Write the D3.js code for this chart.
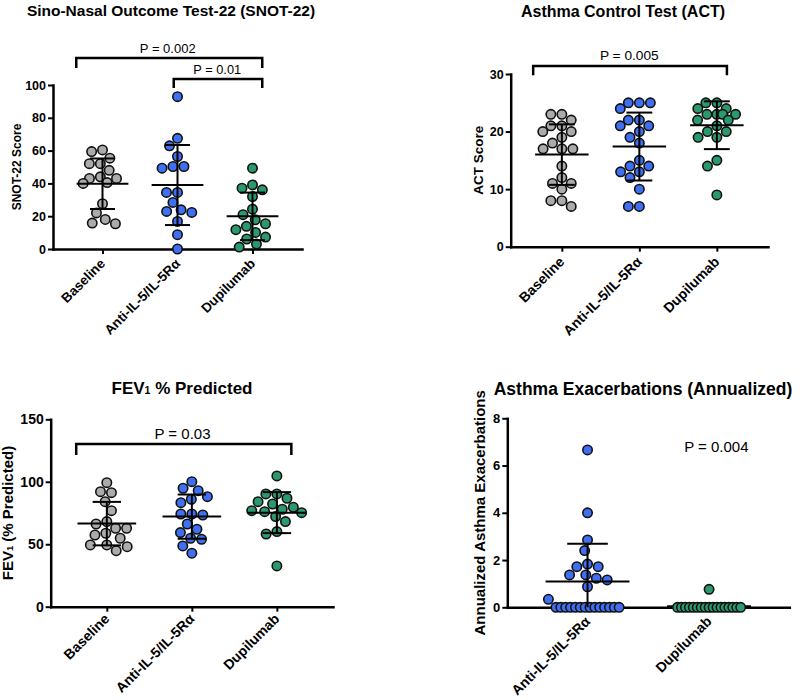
<!DOCTYPE html>
<html><head><meta charset="utf-8">
<script src="https://cdn.jsdelivr.net/npm/d3@7"></script>
<style>
body{margin:0;background:#fff}
svg{display:block}
text{font-family:"Liberation Sans",Arial,Helvetica,sans-serif;fill:#000}
</style>
</head><body>
<svg id="chart" width="800" height="700"></svg>
<script>
// ---------- data ----------
const groups3 = ["Baseline", "Anti-IL-5/IL-5Rα", "Dupilumab"];
const groups2 = ["Anti-IL-5/IL-5Rα", "Dupilumab"];
const colors3 = ["#ababab", "#3f6ff2", "#2a9a6e"];
const colors2 = ["#3f6ff2", "#2a9a6e"];

// SNOT-22
const snotBaseline = [59.4, 60.4, 55.4, 52, 52, 48, 44, 43, 43, 40, 40.5, 27.6, 22, 18, 15.4, 15.8];
const snotAnti = [92.9, 67.5, 62.9, 56.4, 50.3, 49.3, 50.3, 34.5, 34.5, 28.4, 22.9, 22.3, 23.9, 16.8, 8.7, 0];
const snotDupi = [49.3, 39.1, 36.1, 37.1, 32, 24.3, 20.9, 17.8, 15.4, 13.8, 11.8, 10.1, 6.1, 7.3, 3, 1.2];
const snotMean = [39.8, 39.0, 19.9];
const snotSD = [15.4, 24.4, 14.5];
const snotTicks = [0, 20, 40, 60, 80, 100];
const snotP = ["P = 0.002", "P = 0.01"];

// ACT
const actBaseline = [23, 23, 22, 21, 21, 20, 20, 19, 18, 17, 17, 17, 14, 12, 11, 11, 10, 8, 8, 7];
const actAnti = [25, 25, 25, 24, 22, 22, 21, 21, 20, 19, 18, 15, 14, 14, 13, 13, 12, 10, 7, 7];
const actDupi = [25, 25, 24, 24, 23, 23, 23, 23, 22, 22, 21, 20, 20, 19, 19, 15, 14, 9];
const actMean = [16.0, 17.4, 21.1];
const actSD = [5.25, 5.9, 4.15];
const actTicks = [0, 10, 20, 30];
const actP = ["P = 0.005"];

// FEV1 % predicted
const fevBaseline = [99.3, 92.1, 91.3, 84.1, 76.9, 68.1, 66.2, 62.8, 62.8, 58.8, 57.4, 54.8, 49.4, 48.0, 49.4, 44.8];
const fevAnti = [100.1, 94.8, 92.9, 88.1, 86, 83.3, 74.2, 73.4, 74.2, 66.2, 62, 59.3, 54, 54.8, 48.6, 42.8];
const fevDupi = [104.7, 90.3, 90.3, 86.8, 84.1, 82.2, 78, 76.1, 72.1, 75.3, 76.9, 79.6, 68.1, 60.1, 58.2, 32.6];
const fevMean = [66.5, 72.1, 75.3];
const fevSD = [17.4, 17.7, 16.4];
const fevTicks = [0, 50, 100, 150];
const fevP = ["P = 0.03"];

// Annualized exacerbations
const exAnti = [6.66, 4.0, 2.85, 2.4, 1.83, 1.72, 1.72, 1.37, 1.37, 1.16, 1.23, 0.87, 0.34,
                0, 0, 0, 0, 0, 0, 0, 0, 0, 0, 0, 0, 0, 0];
const exDupi = [0.76, 0, 0, 0, 0, 0, 0, 0, 0, 0, 0, 0, 0, 0, 0, 0, 0, 0];
const exMean = [1.09, 0.04];
const exSD = [1.6, null];
const exTicks = [0, 2, 4, 6, 8];
const exP = ["P = 0.004"];

// ---------- layout ----------
const R = 4.7, SW = 1.6, DIAM = 2 * R + SW;

const panels = [
  { title: [{t: "Sino-Nasal Outcome Test-22 (SNOT-22)"}], titleFs: 15.5, titlePos: [171, 15.5],
    ylabel: [{t: "SNOT-22 Score"}], ylabFs: 12, ylabX: 20.5,
    groups: groups3, colors: colors3, series: [snotBaseline, snotAnti, snotDupi],
    means: snotMean, sds: snotSD, ticks: snotTicks, domain: [0, 100],
    frame: {left: 53, right: 302, bottom: 249, top: 85}, tickFs: 12.5, xlabFs: 13.5, xlabOff: 15.5, spread: 0.26,
    brackets: [{from: -0.35, to: 2.13, y: 116.5, drop: 110.4, label: snotP[0], lx: 0.87, ly: 119.5, fs: 13},
               {from: 0.95, to: 2.13, y: 103.7, drop: 98.2, label: snotP[1], lx: 1.53, ly: 106.7, fs: 12.8}] },
  { title: [{t: "Asthma Control Test (ACT)"}], titleFs: 16, titlePos: [623, 17],
    ylabel: [{t: "ACT Score"}], ylabFs: 13.5, ylabX: 482.5,
    groups: groups3, colors: colors3, series: [actBaseline, actAnti, actDupi],
    means: actMean, sds: actSD, ticks: actTicks, domain: [0, 30],
    frame: {left: 510.7, right: 768, bottom: 246.7, top: 74}, tickFs: 12.5, xlabFs: 14, xlabOff: 16, spread: 0.26,
    brackets: [{from: -0.37, to: 2.13, y: 31.4, drop: 29.8, label: actP[0], lx: 0.87, ly: 32.4, fs: 13.7}] },
  { title: [{t: "FEV"}, {t: "1", sub: true}, {t: " % Predicted"}], titleFs: 17, titlePos: [182, 394],
    ylabel: [{t: "FEV"}, {t: "1", sub: true}, {t: " (% Predicted)"}], ylabFs: 15, ylabX: 12.5,
    groups: groups3, colors: colors3, series: [fevBaseline, fevAnti, fevDupi],
    means: fevMean, sds: fevSD, ticks: fevTicks, domain: [0, 150],
    frame: {left: 50.7, right: 333, bottom: 606.7, top: 419.3}, tickFs: 14, xlabFs: 14, xlabOff: 13, spread: 0.3,
    brackets: [{from: -0.36, to: 2.17, y: 130.3, drop: 121.5, label: fevP[0], lx: 0.89, ly: 134.3, fs: 15}] },
  { title: [{t: "Asthma Exacerbations (Annualized)"}], titleFs: 17.5, titlePos: [643, 395],
    ylabel: [{t: "Annualized Asthma Exacerbations"}], ylabFs: 15, ylabX: 485,
    groups: groups2, colors: colors2, series: [exAnti, exDupi],
    means: exMean, sds: exSD, ticks: exTicks, domain: [0, 8],
    frame: {left: 507.3, right: 789.3, bottom: 607.3, top: 418.3}, tickFs: 13, xlabFs: 14, xlabOff: 15, spread: 0.26,
    brackets: [{label: exP[0], lx: 1.06, ly: 6.58, fs: 15}] }
];

// ---------- beeswarm ----------
function swarm(vals, y, diam, maxHalf) {
  const pts = vals.map(v => ({v, y: y(v), x: 0}));
  const placed = [];
  const cap = Math.floor(2 * maxHalf / diam) + 1;
  const counts = d3.rollup(pts, g => g.length, p => p.v);
  for (const [v, n] of counts) {
    if (n > cap) {
      const grp = pts.filter(p => p.v === v);
      grp.forEach((p, i) => { p.x = -maxHalf + 2 * maxHalf * i / (n - 1); p.hard = true; p.done = true; placed.push(p); });
    }
  }
  const rest = pts.filter(p => !p.done).sort((a, b) => a.y - b.y);
  for (const p of rest) {
    let d = diam, best = null, first = null;
    while (true) {
      const cands = [0];
      for (const q of placed) {
        const dd = q.hard ? diam : d;
        const dy = q.y - p.y;
        if (Math.abs(dy) < dd) {
          const dx = Math.sqrt(dd * dd - dy * dy);
          cands.push(q.x + dx, q.x - dx);
        }
      }
      const ok = cands.filter(c => placed.every(q => {
        const dd = q.hard ? diam : d;
        return (q.x - c) ** 2 + (q.y - p.y) ** 2 >= dd * dd - 0.01;
      }));
      ok.sort((a, b) => Math.abs(a) - Math.abs(b) || a - b);
      best = ok[0];
      if (first === null) first = best;
      if (Math.abs(best) <= maxHalf) break;
      if (d < diam * 0.45) { best = first; break; }
      d *= 0.9;
    }
    p.x = best;
    placed.push(p);
  }
  return pts;
}

function addRich(sel, parts, fs) {
  parts.forEach(pt => {
    const ts = sel.append("tspan").text(pt.t);
    if (pt.sub) ts.style("font-size", (fs * 0.62) + "px");
  });
}

// ---------- draw ----------
const svg = d3.select("#chart");

panels.forEach(p => {
  const g = svg.append("g");
  const y = d3.scaleLinear().domain(p.domain).range([p.frame.bottom, p.frame.top]);
  const x = d3.scalePoint().domain(p.groups).range([p.frame.left, p.frame.right]).padding(0.66);
  const step = x.step();
  const xi = i => x(p.groups[0]) + i * step;

  // axes (drawn first so markers sit on top of them)
  const yg = g.append("g").attr("transform", `translate(${p.frame.left},0)`)
    .call(d3.axisLeft(y).tickValues(p.ticks).tickSize(5).tickSizeOuter(0).tickPadding(2));
  yg.attr("font-family", null).attr("font-size", null);
  yg.select(".domain").attr("stroke", "#000").attr("stroke-width", 2.5).attr("stroke-linecap", "square");
  yg.selectAll(".tick line").attr("stroke", "#000").attr("stroke-width", 2);
  yg.selectAll(".tick text").style("font-size", p.tickFs + "px")
    .style("font-weight", "bold").attr("fill", "#000");

  const xg = g.append("g").attr("transform", `translate(0,${p.frame.bottom})`)
    .call(d3.axisBottom(x).tickSize(5).tickSizeOuter(0));
  xg.attr("font-family", null).attr("font-size", null);
  xg.select(".domain").attr("stroke", "#000").attr("stroke-width", 2.5).attr("stroke-linecap", "square");
  xg.selectAll(".tick line").attr("stroke", "#000").attr("stroke-width", 2);
  xg.selectAll(".tick text")
    .attr("x", 0).attr("y", 0).attr("dy", 0)
    .attr("transform", `translate(3,${p.xlabOff}) rotate(-45)`)
    .style("text-anchor", "end").style("font-size", p.xlabFs + "px")
    .style("font-weight", "bold").attr("fill", "#000");

  // mean lines of groups without SD go beneath the markers
  const under = g.append("g").attr("stroke", "#000").attr("stroke-width", 2);

  // points
  p.series.forEach((vals, gi) => {
    const cx = x(p.groups[gi]);
    const pts = swarm(vals, y, DIAM, step * p.spread);
    g.append("g").selectAll("circle").data(pts).join("circle")
      .attr("cx", d => cx + d.x).attr("cy", d => d.y).attr("r", R)
      .attr("fill", p.colors[gi]).attr("stroke", "#111").attr("stroke-width", SW);
  });

  // mean and SD bars
  const lg = g.append("g").attr("stroke", "#000").attr("stroke-width", 2).attr("fill", "none");
  p.means.forEach((m, gi) => {
    const cx = x(p.groups[gi]);
    const sd = p.sds[gi];
    (sd == null ? under : lg).append("line")
      .attr("x1", cx - 0.345 * step).attr("x2", cx + 0.345 * step)
      .attr("y1", y(m)).attr("y2", y(m));
    if (sd != null) {
      const hi = m + sd, lo = Math.max(m - sd, p.domain[0]);
      lg.append("line").attr("x1", cx).attr("x2", cx).attr("y1", y(lo)).attr("y2", y(hi));
      lg.append("line").attr("x1", cx - 0.167 * step).attr("x2", cx + 0.167 * step)
        .attr("y1", y(hi)).attr("y2", y(hi));
      if (m - sd >= p.domain[0]) {
        lg.append("line").attr("x1", cx - 0.167 * step).attr("x2", cx + 0.167 * step)
          .attr("y1", y(lo)).attr("y2", y(lo));
      }
    }
  });

  // brackets and P values
  p.brackets.forEach(b => {
    if (b.from != null) {
      g.append("path")
        .attr("d", `M${xi(b.from)},${y(b.drop)}V${y(b.y)}H${xi(b.to)}V${y(b.drop)}`)
        .attr("fill", "none").attr("stroke", "#000").attr("stroke-width", 2.5);
    }
    g.append("text").attr("x", xi(b.lx)).attr("y", y(b.ly))
      .attr("text-anchor", "middle").style("font-size", b.fs + "px").text(b.label);
  });

  // title
  const tt = g.append("text").attr("x", p.titlePos[0]).attr("y", p.titlePos[1])
    .attr("text-anchor", "middle").style("font-size", p.titleFs + "px").style("font-weight", "bold");
  addRich(tt, p.title, p.titleFs);

  // y label
  const ymid = (p.frame.top + p.frame.bottom) / 2;
  const yl = g.append("text").attr("transform", `translate(${p.ylabX},${ymid}) rotate(-90)`)
    .attr("text-anchor", "middle").style("font-size", p.ylabFs + "px").style("font-weight", "bold");
  addRich(yl, p.ylabel, p.ylabFs);
});
</script>
</body></html>
